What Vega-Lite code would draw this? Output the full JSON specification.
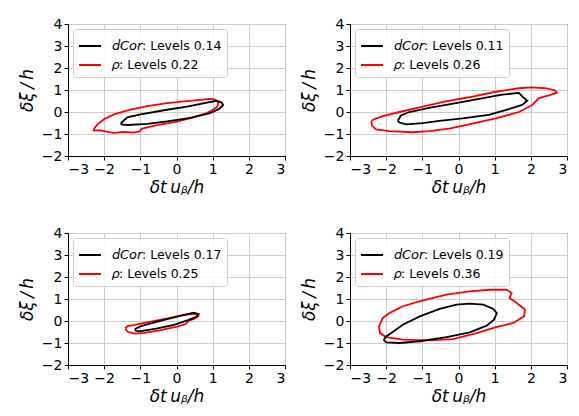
{
"$schema":"https://vega.github.io/schema/vega-lite/v6.json",
"padding":{"left":17,"top":16,"right":5,"bottom":5},
"background":"white",
"config":{
 "font":"DejaVu Sans",
 "view":{"stroke":"black","strokeWidth":1},
 "axis":{"domainColor":"black","domainWidth":1,"tickColor":"black","tickSize":4,"labelFontSize":14,"labelColor":"black","labelFont":"DejaVu Sans","titleFont":"DejaVu Sans","titleFontSize":17,"titleFontStyle":"italic","titleFontWeight":"normal","titleColor":"black","gridColor":"#cccccc","gridWidth":1,"labelPadding":2},
 "axisX":{"titlePadding":3},
 "axisY":{"titlePadding":5},
 "legend":{"orient":"top-left","offset":5,"padding":5,"fillColor":"rgba(255,255,255,0.85)","strokeColor":"#cccccc","cornerRadius":3,"symbolType":"stroke","symbolSize":484,"symbolStrokeWidth":2,"labelFontSize":12.5,"labelFont":"DejaVu Sans","labelColor":"black","labelOffset":10,"rowPadding":-1,"title":null}
},
"data":{"values":[
{"p":1,"s":"r","o":0,"x":-2.29,"y":-0.78},{"p":1,"s":"r","o":1,"x":-2.18,"y":-0.56},{"p":1,"s":"r","o":2,"x":-2.0,"y":-0.32},{"p":1,"s":"r","o":3,"x":-1.73,"y":-0.11},{"p":1,"s":"r","o":4,"x":-1.27,"y":0.11},{"p":1,"s":"r","o":5,"x":-0.81,"y":0.27},{"p":1,"s":"r","o":6,"x":-0.26,"y":0.40},{"p":1,"s":"r","o":7,"x":0.29,"y":0.49},{"p":1,"s":"r","o":8,"x":0.93,"y":0.60},{"p":1,"s":"r","o":9,"x":1.07,"y":0.56},{"p":1,"s":"r","o":10,"x":1.16,"y":0.43},{"p":1,"s":"r","o":11,"x":1.13,"y":0.24},{"p":1,"s":"r","o":12,"x":1.02,"y":0.11},{"p":1,"s":"r","o":13,"x":0.84,"y":-0.05},{"p":1,"s":"r","o":14,"x":0.47,"y":-0.24},{"p":1,"s":"r","o":15,"x":0.01,"y":-0.44},{"p":1,"s":"r","o":16,"x":-0.54,"y":-0.60},{"p":1,"s":"r","o":17,"x":-0.95,"y":-0.75},{"p":1,"s":"r","o":18,"x":-1.01,"y":-0.87},{"p":1,"s":"r","o":19,"x":-1.18,"y":-0.94},{"p":1,"s":"r","o":20,"x":-1.45,"y":-0.90},{"p":1,"s":"r","o":21,"x":-1.73,"y":-0.95},{"p":1,"s":"r","o":22,"x":-1.91,"y":-0.90},{"p":1,"s":"r","o":23,"x":-2.09,"y":-0.84},{"p":1,"s":"r","o":24,"x":-2.29,"y":-0.83},{"p":1,"s":"r","o":25,"x":-2.29,"y":-0.78},
{"p":1,"s":"d","o":0,"x":-1.54,"y":-0.51},{"p":1,"s":"d","o":1,"x":-1.36,"y":-0.24},{"p":1,"s":"d","o":2,"x":-0.99,"y":-0.11},{"p":1,"s":"d","o":3,"x":-0.35,"y":0.08},{"p":1,"s":"d","o":4,"x":0.29,"y":0.24},{"p":1,"s":"d","o":5,"x":0.84,"y":0.43},{"p":1,"s":"d","o":6,"x":1.11,"y":0.51},{"p":1,"s":"d","o":7,"x":1.25,"y":0.43},{"p":1,"s":"d","o":8,"x":1.29,"y":0.32},{"p":1,"s":"d","o":9,"x":1.2,"y":0.16},{"p":1,"s":"d","o":10,"x":0.93,"y":-0.05},{"p":1,"s":"d","o":11,"x":0.38,"y":-0.27},{"p":1,"s":"d","o":12,"x":-0.26,"y":-0.43},{"p":1,"s":"d","o":13,"x":-0.81,"y":-0.54},{"p":1,"s":"d","o":14,"x":-1.36,"y":-0.59},{"p":1,"s":"d","o":15,"x":-1.52,"y":-0.56},{"p":1,"s":"d","o":16,"x":-1.54,"y":-0.51},
{"p":2,"s":"r","o":0,"x":-2.41,"y":-0.40},{"p":2,"s":"r","o":1,"x":-2.39,"y":-0.63},{"p":2,"s":"r","o":2,"x":-2.28,"y":-0.79},{"p":2,"s":"r","o":3,"x":-1.91,"y":-0.87},{"p":2,"s":"r","o":4,"x":-1.27,"y":-0.92},{"p":2,"s":"r","o":5,"x":-0.81,"y":-0.87},{"p":2,"s":"r","o":6,"x":-0.26,"y":-0.76},{"p":2,"s":"r","o":7,"x":0.29,"y":-0.56},{"p":2,"s":"r","o":8,"x":1.03,"y":-0.29},{"p":2,"s":"r","o":9,"x":1.67,"y":0.0},{"p":2,"s":"r","o":10,"x":2.04,"y":0.32},{"p":2,"s":"r","o":11,"x":2.22,"y":0.63},{"p":2,"s":"r","o":12,"x":2.50,"y":0.76},{"p":2,"s":"r","o":13,"x":2.72,"y":0.88},{"p":2,"s":"r","o":14,"x":2.68,"y":0.98},{"p":2,"s":"r","o":15,"x":2.4,"y":1.08},{"p":2,"s":"r","o":16,"x":2.04,"y":1.12},{"p":2,"s":"r","o":17,"x":1.67,"y":1.08},{"p":2,"s":"r","o":18,"x":1.03,"y":0.92},{"p":2,"s":"r","o":19,"x":0.29,"y":0.67},{"p":2,"s":"r","o":20,"x":-0.35,"y":0.48},{"p":2,"s":"r","o":21,"x":-0.99,"y":0.24},{"p":2,"s":"r","o":22,"x":-1.63,"y":0.0},{"p":2,"s":"r","o":23,"x":-2.09,"y":-0.19},{"p":2,"s":"r","o":24,"x":-2.32,"y":-0.32},{"p":2,"s":"r","o":25,"x":-2.41,"y":-0.40},
{"p":2,"s":"d","o":0,"x":-1.68,"y":-0.40},{"p":2,"s":"d","o":1,"x":-1.59,"y":-0.16},{"p":2,"s":"d","o":2,"x":-1.36,"y":0.0},{"p":2,"s":"d","o":3,"x":-0.81,"y":0.19},{"p":2,"s":"d","o":4,"x":-0.07,"y":0.40},{"p":2,"s":"d","o":5,"x":0.57,"y":0.60},{"p":2,"s":"d","o":6,"x":1.21,"y":0.79},{"p":2,"s":"d","o":7,"x":1.67,"y":0.87},{"p":2,"s":"d","o":8,"x":1.76,"y":0.71},{"p":2,"s":"d","o":9,"x":1.90,"y":0.51},{"p":2,"s":"d","o":10,"x":1.76,"y":0.32},{"p":2,"s":"d","o":11,"x":1.39,"y":0.13},{"p":2,"s":"d","o":12,"x":0.84,"y":-0.13},{"p":2,"s":"d","o":13,"x":0.11,"y":-0.29},{"p":2,"s":"d","o":14,"x":-0.53,"y":-0.40},{"p":2,"s":"d","o":15,"x":-0.99,"y":-0.51},{"p":2,"s":"d","o":16,"x":-1.45,"y":-0.56},{"p":2,"s":"d","o":17,"x":-1.63,"y":-0.48},{"p":2,"s":"d","o":18,"x":-1.68,"y":-0.40},
{"p":3,"s":"r","o":0,"x":-1.42,"y":-0.34},{"p":3,"s":"r","o":1,"x":-1.35,"y":-0.49},{"p":3,"s":"r","o":2,"x":-1.16,"y":-0.57},{"p":3,"s":"r","o":3,"x":-0.89,"y":-0.54},{"p":3,"s":"r","o":4,"x":-0.44,"y":-0.42},{"p":3,"s":"r","o":5,"x":0.02,"y":-0.26},{"p":3,"s":"r","o":6,"x":0.25,"y":-0.14},{"p":3,"s":"r","o":7,"x":0.34,"y":0.02},{"p":3,"s":"r","o":8,"x":0.52,"y":0.12},{"p":3,"s":"r","o":9,"x":0.61,"y":0.23},{"p":3,"s":"r","o":10,"x":0.52,"y":0.32},{"p":3,"s":"r","o":11,"x":0.2,"y":0.28},{"p":3,"s":"r","o":12,"x":-0.25,"y":0.12},{"p":3,"s":"r","o":13,"x":-0.71,"y":-0.03},{"p":3,"s":"r","o":14,"x":-1.16,"y":-0.18},{"p":3,"s":"r","o":15,"x":-1.35,"y":-0.23},{"p":3,"s":"r","o":16,"x":-1.42,"y":-0.34},
{"p":3,"s":"d","o":0,"x":-1.15,"y":-0.37},{"p":3,"s":"d","o":1,"x":-0.98,"y":-0.23},{"p":3,"s":"d","o":2,"x":-0.53,"y":-0.03},{"p":3,"s":"d","o":3,"x":0.02,"y":0.2},{"p":3,"s":"d","o":4,"x":0.47,"y":0.38},{"p":3,"s":"d","o":5,"x":0.61,"y":0.32},{"p":3,"s":"d","o":6,"x":0.56,"y":0.2},{"p":3,"s":"d","o":7,"x":0.34,"y":0.05},{"p":3,"s":"d","o":8,"x":-0.07,"y":-0.18},{"p":3,"s":"d","o":9,"x":-0.53,"y":-0.34},{"p":3,"s":"d","o":10,"x":-0.98,"y":-0.46},{"p":3,"s":"d","o":11,"x":-1.12,"y":-0.45},{"p":3,"s":"d","o":12,"x":-1.15,"y":-0.37},
{"p":4,"s":"r","o":0,"x":-2.20,"y":-0.24},{"p":4,"s":"r","o":1,"x":-2.09,"y":0.14},{"p":4,"s":"r","o":2,"x":-1.91,"y":0.36},{"p":4,"s":"r","o":3,"x":-1.54,"y":0.67},{"p":4,"s":"r","o":4,"x":-0.98,"y":0.94},{"p":4,"s":"r","o":5,"x":-0.33,"y":1.2},{"p":4,"s":"r","o":6,"x":0.31,"y":1.35},{"p":4,"s":"r","o":7,"x":0.87,"y":1.42},{"p":4,"s":"r","o":8,"x":1.33,"y":1.42},{"p":4,"s":"r","o":9,"x":1.47,"y":1.27},{"p":4,"s":"r","o":10,"x":1.41,"y":1.05},{"p":4,"s":"r","o":11,"x":1.61,"y":0.82},{"p":4,"s":"r","o":12,"x":1.84,"y":0.52},{"p":4,"s":"r","o":13,"x":1.81,"y":0.21},{"p":4,"s":"r","o":14,"x":1.52,"y":-0.09},{"p":4,"s":"r","o":15,"x":1.06,"y":-0.27},{"p":4,"s":"r","o":16,"x":0.5,"y":-0.55},{"p":4,"s":"r","o":17,"x":-0.15,"y":-0.82},{"p":4,"s":"r","o":18,"x":-0.80,"y":-0.88},{"p":4,"s":"r","o":19,"x":-1.54,"y":-0.85},{"p":4,"s":"r","o":20,"x":-2.0,"y":-0.73},{"p":4,"s":"r","o":21,"x":-2.17,"y":-0.55},{"p":4,"s":"r","o":22,"x":-2.20,"y":-0.24},
{"p":4,"s":"d","o":0,"x":-2.07,"y":-0.85},{"p":4,"s":"d","o":1,"x":-2.0,"y":-0.70},{"p":4,"s":"d","o":2,"x":-1.86,"y":-0.55},{"p":4,"s":"d","o":3,"x":-1.54,"y":-0.17},{"p":4,"s":"d","o":4,"x":-1.07,"y":0.21},{"p":4,"s":"d","o":5,"x":-0.52,"y":0.55},{"p":4,"s":"d","o":6,"x":-0.06,"y":0.74},{"p":4,"s":"d","o":7,"x":0.31,"y":0.79},{"p":4,"s":"d","o":8,"x":0.69,"y":0.74},{"p":4,"s":"d","o":9,"x":0.96,"y":0.55},{"p":4,"s":"d","o":10,"x":1.06,"y":0.36},{"p":4,"s":"d","o":11,"x":0.98,"y":0.06},{"p":4,"s":"d","o":12,"x":0.78,"y":-0.21},{"p":4,"s":"d","o":13,"x":0.31,"y":-0.52},{"p":4,"s":"d","o":14,"x":-0.33,"y":-0.73},{"p":4,"s":"d","o":15,"x":-1.07,"y":-0.92},{"p":4,"s":"d","o":16,"x":-1.63,"y":-1.0},{"p":4,"s":"d","o":17,"x":-2.0,"y":-0.97},{"p":4,"s":"d","o":18,"x":-2.07,"y":-0.85}
]},
"vconcat":[
 {"hconcat":[
  {"width":217,"height":132,"transform":[{"filter":"datum.p==1"}],"mark":{"type":"line","strokeWidth":1.8,"clip":true},
   "encoding":{"x":{"field":"x","type":"quantitative","scale":{"domain":[-3,3],"nice":false},"axis":{"values":[-3,-2,-1,0,1,2,3],"title":"δt\u2009uᵦ/h"}},
    "y":{"field":"y","type":"quantitative","scale":{"domain":[-2,4],"nice":false},"axis":{"values":[-2,-1,0,1,2,3,4],"title":"δξ\u2009/\u2009h"}},
    "order":{"field":"o","type":"quantitative"},
    "color":{"field":"s","type":"nominal","scale":{"domain":["d","r"],"range":["black","red"]},"legend":{"labelExpr":"datum.value=='d' ? '𝘥𝘊𝘰𝘳: Levels 0.14' : '𝜌: Levels 0.22'"}}}},
  {"width":217,"height":132,"transform":[{"filter":"datum.p==2"}],"mark":{"type":"line","strokeWidth":1.8,"clip":true},
   "encoding":{"x":{"field":"x","type":"quantitative","scale":{"domain":[-3,3],"nice":false},"axis":{"values":[-3,-2,-1,0,1,2,3],"title":"δt\u2009uᵦ/h"}},
    "y":{"field":"y","type":"quantitative","scale":{"domain":[-2,4],"nice":false},"axis":{"values":[-2,-1,0,1,2,3,4],"title":"δξ\u2009/\u2009h"}},
    "order":{"field":"o","type":"quantitative"},
    "color":{"field":"s","type":"nominal","scale":{"domain":["d","r"],"range":["black","red"]},"legend":{"labelExpr":"datum.value=='d' ? '𝘥𝘊𝘰𝘳: Levels 0.11' : '𝜌: Levels 0.26'"}}}}
 ],"spacing":65,"bounds":"flush","resolve":{"scale":{"color":"independent","x":"independent","y":"independent"},"legend":{"color":"independent"}}},
 {"hconcat":[
  {"width":217,"height":132,"transform":[{"filter":"datum.p==3"}],"mark":{"type":"line","strokeWidth":1.8,"clip":true},
   "encoding":{"x":{"field":"x","type":"quantitative","scale":{"domain":[-3,3],"nice":false},"axis":{"values":[-3,-2,-1,0,1,2,3],"title":"δt\u2009uᵦ/h"}},
    "y":{"field":"y","type":"quantitative","scale":{"domain":[-2,4],"nice":false},"axis":{"values":[-2,-1,0,1,2,3,4],"title":"δξ\u2009/\u2009h"}},
    "order":{"field":"o","type":"quantitative"},
    "color":{"field":"s","type":"nominal","scale":{"domain":["d","r"],"range":["black","red"]},"legend":{"labelExpr":"datum.value=='d' ? '𝘥𝘊𝘰𝘳: Levels 0.17' : '𝜌: Levels 0.25'"}}}},
  {"width":217,"height":132,"transform":[{"filter":"datum.p==4"}],"mark":{"type":"line","strokeWidth":1.8,"clip":true},
   "encoding":{"x":{"field":"x","type":"quantitative","scale":{"domain":[-3,3],"nice":false},"axis":{"values":[-3,-2,-1,0,1,2,3],"title":"δt\u2009uᵦ/h"}},
    "y":{"field":"y","type":"quantitative","scale":{"domain":[-2,4],"nice":false},"axis":{"values":[-2,-1,0,1,2,3,4],"title":"δξ\u2009/\u2009h"}},
    "order":{"field":"o","type":"quantitative"},
    "color":{"field":"s","type":"nominal","scale":{"domain":["d","r"],"range":["black","red"]},"legend":{"labelExpr":"datum.value=='d' ? '𝘥𝘊𝘰𝘳: Levels 0.19' : '𝜌: Levels 0.36'"}}}}
 ],"spacing":65,"bounds":"flush","resolve":{"scale":{"color":"independent","x":"independent","y":"independent"},"legend":{"color":"independent"}}}
],
"spacing":29,
"resolve":{"scale":{"color":"independent","x":"independent","y":"independent"},"legend":{"color":"independent"}}
}
